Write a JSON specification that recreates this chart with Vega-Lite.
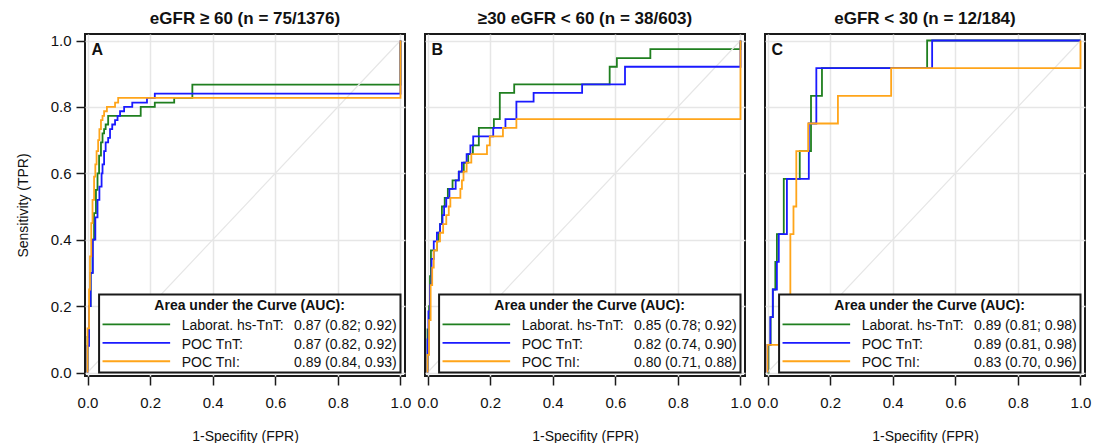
{
  "$schema": "https://vega.github.io/schema/vega-lite/v6.json",
  "background": "white",
  "padding": {"left": 16, "top": 10, "right": 5, "bottom": 0},
  "config": {
    "font": "Liberation Sans",
    "view": {"stroke": "#1a1a1a", "strokeWidth": 2},
    "axis": {
      "grid": true, "gridColor": "#e6e6e6", "gridWidth": 1.5,
      "domain": false, "tickColor": "#1a1a1a", "tickSize": 9, "tickWidth": 1.5,
      "labelFont": "Liberation Sans", "labelFontSize": 15, "labelColor": "#111",
      "titleFont": "Liberation Sans", "titleFontSize": 14, "titleFontWeight": "normal", "titleColor": "#111"
    },
    "axisX": {"labelPadding": 10, "titlePadding": 19},
    "axisY": {"labelPadding": 5, "titlePadding": 20},
    "text": {"font": "Liberation Sans", "color": "#111"}
  },
  "data": {"values": [
    {"panel":"A","kind":"leg","labels":["Laborat. hs-TnT:","POC TnT:","POC TnI:"],"aucs":["0.87 (0.82; 0.92)","0.87 (0.82, 0.92)","0.89 (0.84, 0.93)"]},
    {"panel":"B","kind":"leg","labels":["Laborat. hs-TnT:","POC TnT:","POC TnI:"],"aucs":["0.85 (0.78; 0.92)","0.82 (0.74, 0.90)","0.80 (0.71, 0.88)"]},
    {"panel":"C","kind":"leg","labels":["Laborat. hs-TnT:","POC TnT:","POC TnI:"],"aucs":["0.89 (0.81; 0.98)","0.89 (0.81, 0.98)","0.83 (0.70, 0.96)"]},

    {"panel":"A","kind":"roc","series":"Laborat. hs-TnT","k":0,"fpr":0,"tpr":0},
    {"panel":"A","kind":"roc","series":"Laborat. hs-TnT","k":1,"fpr":0,"tpr":0.107},
    {"panel":"A","kind":"roc","series":"Laborat. hs-TnT","k":2,"fpr":0.005,"tpr":0.2},
    {"panel":"A","kind":"roc","series":"Laborat. hs-TnT","k":3,"fpr":0.01,"tpr":0.3},
    {"panel":"A","kind":"roc","series":"Laborat. hs-TnT","k":4,"fpr":0.016,"tpr":0.4},
    {"panel":"A","kind":"roc","series":"Laborat. hs-TnT","k":5,"fpr":0.021,"tpr":0.48},
    {"panel":"A","kind":"roc","series":"Laborat. hs-TnT","k":6,"fpr":0.027,"tpr":0.55},
    {"panel":"A","kind":"roc","series":"Laborat. hs-TnT","k":7,"fpr":0.032,"tpr":0.6},
    {"panel":"A","kind":"roc","series":"Laborat. hs-TnT","k":8,"fpr":0.037,"tpr":0.653},
    {"panel":"A","kind":"roc","series":"Laborat. hs-TnT","k":9,"fpr":0.043,"tpr":0.693},
    {"panel":"A","kind":"roc","series":"Laborat. hs-TnT","k":10,"fpr":0.048,"tpr":0.72},
    {"panel":"A","kind":"roc","series":"Laborat. hs-TnT","k":11,"fpr":0.053,"tpr":0.733},
    {"panel":"A","kind":"roc","series":"Laborat. hs-TnT","k":12,"fpr":0.058,"tpr":0.747},
    {"panel":"A","kind":"roc","series":"Laborat. hs-TnT","k":13,"fpr":0.066,"tpr":0.773},
    {"panel":"A","kind":"roc","series":"Laborat. hs-TnT","k":14,"fpr":0.17,"tpr":0.8},
    {"panel":"A","kind":"roc","series":"Laborat. hs-TnT","k":15,"fpr":0.215,"tpr":0.813},
    {"panel":"A","kind":"roc","series":"Laborat. hs-TnT","k":16,"fpr":0.277,"tpr":0.827},
    {"panel":"A","kind":"roc","series":"Laborat. hs-TnT","k":17,"fpr":0.335,"tpr":0.867},
    {"panel":"A","kind":"roc","series":"Laborat. hs-TnT","k":18,"fpr":1,"tpr":1},

    {"panel":"A","kind":"roc","series":"POC TnT","k":0,"fpr":0,"tpr":0},
    {"panel":"A","kind":"roc","series":"POC TnT","k":1,"fpr":0,"tpr":0.08},
    {"panel":"A","kind":"roc","series":"POC TnT","k":2,"fpr":0.005,"tpr":0.2},
    {"panel":"A","kind":"roc","series":"POC TnT","k":3,"fpr":0.01,"tpr":0.3},
    {"panel":"A","kind":"roc","series":"POC TnT","k":4,"fpr":0.017,"tpr":0.4},
    {"panel":"A","kind":"roc","series":"POC TnT","k":5,"fpr":0.025,"tpr":0.467},
    {"panel":"A","kind":"roc","series":"POC TnT","k":6,"fpr":0.032,"tpr":0.52},
    {"panel":"A","kind":"roc","series":"POC TnT","k":7,"fpr":0.038,"tpr":0.56},
    {"panel":"A","kind":"roc","series":"POC TnT","k":8,"fpr":0.045,"tpr":0.6},
    {"panel":"A","kind":"roc","series":"POC TnT","k":9,"fpr":0.048,"tpr":0.627},
    {"panel":"A","kind":"roc","series":"POC TnT","k":10,"fpr":0.053,"tpr":0.667},
    {"panel":"A","kind":"roc","series":"POC TnT","k":11,"fpr":0.058,"tpr":0.693},
    {"panel":"A","kind":"roc","series":"POC TnT","k":12,"fpr":0.066,"tpr":0.707},
    {"panel":"A","kind":"roc","series":"POC TnT","k":13,"fpr":0.072,"tpr":0.733},
    {"panel":"A","kind":"roc","series":"POC TnT","k":14,"fpr":0.079,"tpr":0.747},
    {"panel":"A","kind":"roc","series":"POC TnT","k":15,"fpr":0.088,"tpr":0.76},
    {"panel":"A","kind":"roc","series":"POC TnT","k":16,"fpr":0.096,"tpr":0.773},
    {"panel":"A","kind":"roc","series":"POC TnT","k":17,"fpr":0.104,"tpr":0.787},
    {"panel":"A","kind":"roc","series":"POC TnT","k":18,"fpr":0.117,"tpr":0.8},
    {"panel":"A","kind":"roc","series":"POC TnT","k":19,"fpr":0.143,"tpr":0.813},
    {"panel":"A","kind":"roc","series":"POC TnT","k":20,"fpr":0.19,"tpr":0.827},
    {"panel":"A","kind":"roc","series":"POC TnT","k":21,"fpr":0.215,"tpr":0.84},
    {"panel":"A","kind":"roc","series":"POC TnT","k":22,"fpr":1,"tpr":1},

    {"panel":"A","kind":"roc","series":"POC TnI","k":0,"fpr":0,"tpr":0},
    {"panel":"A","kind":"roc","series":"POC TnI","k":1,"fpr":0,"tpr":0.133},
    {"panel":"A","kind":"roc","series":"POC TnI","k":2,"fpr":0.005,"tpr":0.25},
    {"panel":"A","kind":"roc","series":"POC TnI","k":3,"fpr":0.008,"tpr":0.35},
    {"panel":"A","kind":"roc","series":"POC TnI","k":4,"fpr":0.012,"tpr":0.45},
    {"panel":"A","kind":"roc","series":"POC TnI","k":5,"fpr":0.016,"tpr":0.52},
    {"panel":"A","kind":"roc","series":"POC TnI","k":6,"fpr":0.021,"tpr":0.59},
    {"panel":"A","kind":"roc","series":"POC TnI","k":7,"fpr":0.025,"tpr":0.627},
    {"panel":"A","kind":"roc","series":"POC TnI","k":8,"fpr":0.029,"tpr":0.667},
    {"panel":"A","kind":"roc","series":"POC TnI","k":9,"fpr":0.034,"tpr":0.7},
    {"panel":"A","kind":"roc","series":"POC TnI","k":10,"fpr":0.038,"tpr":0.733},
    {"panel":"A","kind":"roc","series":"POC TnI","k":11,"fpr":0.043,"tpr":0.76},
    {"panel":"A","kind":"roc","series":"POC TnI","k":12,"fpr":0.048,"tpr":0.773},
    {"panel":"A","kind":"roc","series":"POC TnI","k":13,"fpr":0.053,"tpr":0.787},
    {"panel":"A","kind":"roc","series":"POC TnI","k":14,"fpr":0.062,"tpr":0.8},
    {"panel":"A","kind":"roc","series":"POC TnI","k":15,"fpr":0.088,"tpr":0.813},
    {"panel":"A","kind":"roc","series":"POC TnI","k":16,"fpr":0.098,"tpr":0.827},
    {"panel":"A","kind":"roc","series":"POC TnI","k":17,"fpr":1,"tpr":1},

    {"panel":"B","kind":"roc","series":"Laborat. hs-TnT","k":0,"fpr":0,"tpr":0},
    {"panel":"B","kind":"roc","series":"Laborat. hs-TnT","k":1,"fpr":0,"tpr":0.13},
    {"panel":"B","kind":"roc","series":"Laborat. hs-TnT","k":2,"fpr":0.005,"tpr":0.2},
    {"panel":"B","kind":"roc","series":"Laborat. hs-TnT","k":3,"fpr":0.008,"tpr":0.29},
    {"panel":"B","kind":"roc","series":"Laborat. hs-TnT","k":4,"fpr":0.011,"tpr":0.368},
    {"panel":"B","kind":"roc","series":"Laborat. hs-TnT","k":5,"fpr":0.03,"tpr":0.395},
    {"panel":"B","kind":"roc","series":"Laborat. hs-TnT","k":6,"fpr":0.035,"tpr":0.421},
    {"panel":"B","kind":"roc","series":"Laborat. hs-TnT","k":7,"fpr":0.04,"tpr":0.447},
    {"panel":"B","kind":"roc","series":"Laborat. hs-TnT","k":8,"fpr":0.046,"tpr":0.5},
    {"panel":"B","kind":"roc","series":"Laborat. hs-TnT","k":9,"fpr":0.055,"tpr":0.526},
    {"panel":"B","kind":"roc","series":"Laborat. hs-TnT","k":10,"fpr":0.065,"tpr":0.553},
    {"panel":"B","kind":"roc","series":"Laborat. hs-TnT","k":11,"fpr":0.08,"tpr":0.579},
    {"panel":"B","kind":"roc","series":"Laborat. hs-TnT","k":12,"fpr":0.1,"tpr":0.605},
    {"panel":"B","kind":"roc","series":"Laborat. hs-TnT","k":13,"fpr":0.116,"tpr":0.632},
    {"panel":"B","kind":"roc","series":"Laborat. hs-TnT","k":14,"fpr":0.13,"tpr":0.658},
    {"panel":"B","kind":"roc","series":"Laborat. hs-TnT","k":15,"fpr":0.145,"tpr":0.684},
    {"panel":"B","kind":"roc","series":"Laborat. hs-TnT","k":16,"fpr":0.164,"tpr":0.737},
    {"panel":"B","kind":"roc","series":"Laborat. hs-TnT","k":17,"fpr":0.212,"tpr":0.763},
    {"panel":"B","kind":"roc","series":"Laborat. hs-TnT","k":18,"fpr":0.231,"tpr":0.842},
    {"panel":"B","kind":"roc","series":"Laborat. hs-TnT","k":19,"fpr":0.277,"tpr":0.868},
    {"panel":"B","kind":"roc","series":"Laborat. hs-TnT","k":20,"fpr":0.582,"tpr":0.921},
    {"panel":"B","kind":"roc","series":"Laborat. hs-TnT","k":21,"fpr":0.605,"tpr":0.947},
    {"panel":"B","kind":"roc","series":"Laborat. hs-TnT","k":22,"fpr":0.712,"tpr":0.974},
    {"panel":"B","kind":"roc","series":"Laborat. hs-TnT","k":23,"fpr":1,"tpr":1},

    {"panel":"B","kind":"roc","series":"POC TnT","k":0,"fpr":0,"tpr":0},
    {"panel":"B","kind":"roc","series":"POC TnT","k":1,"fpr":0,"tpr":0.1},
    {"panel":"B","kind":"roc","series":"POC TnT","k":2,"fpr":0.003,"tpr":0.184},
    {"panel":"B","kind":"roc","series":"POC TnT","k":3,"fpr":0.008,"tpr":0.263},
    {"panel":"B","kind":"roc","series":"POC TnT","k":4,"fpr":0.013,"tpr":0.342},
    {"panel":"B","kind":"roc","series":"POC TnT","k":5,"fpr":0.02,"tpr":0.395},
    {"panel":"B","kind":"roc","series":"POC TnT","k":6,"fpr":0.03,"tpr":0.421},
    {"panel":"B","kind":"roc","series":"POC TnT","k":7,"fpr":0.04,"tpr":0.447},
    {"panel":"B","kind":"roc","series":"POC TnT","k":8,"fpr":0.048,"tpr":0.474},
    {"panel":"B","kind":"roc","series":"POC TnT","k":9,"fpr":0.053,"tpr":0.5},
    {"panel":"B","kind":"roc","series":"POC TnT","k":10,"fpr":0.06,"tpr":0.526},
    {"panel":"B","kind":"roc","series":"POC TnT","k":11,"fpr":0.07,"tpr":0.553},
    {"panel":"B","kind":"roc","series":"POC TnT","k":12,"fpr":0.09,"tpr":0.579},
    {"panel":"B","kind":"roc","series":"POC TnT","k":13,"fpr":0.1,"tpr":0.605},
    {"panel":"B","kind":"roc","series":"POC TnT","k":14,"fpr":0.11,"tpr":0.632},
    {"panel":"B","kind":"roc","series":"POC TnT","k":15,"fpr":0.125,"tpr":0.658},
    {"panel":"B","kind":"roc","series":"POC TnT","k":16,"fpr":0.137,"tpr":0.684},
    {"panel":"B","kind":"roc","series":"POC TnT","k":17,"fpr":0.146,"tpr":0.711},
    {"panel":"B","kind":"roc","series":"POC TnT","k":18,"fpr":0.21,"tpr":0.737},
    {"panel":"B","kind":"roc","series":"POC TnT","k":19,"fpr":0.249,"tpr":0.763},
    {"panel":"B","kind":"roc","series":"POC TnT","k":20,"fpr":0.284,"tpr":0.816},
    {"panel":"B","kind":"roc","series":"POC TnT","k":21,"fpr":0.339,"tpr":0.842},
    {"panel":"B","kind":"roc","series":"POC TnT","k":22,"fpr":0.494,"tpr":0.868},
    {"panel":"B","kind":"roc","series":"POC TnT","k":23,"fpr":0.631,"tpr":0.921},
    {"panel":"B","kind":"roc","series":"POC TnT","k":24,"fpr":1,"tpr":1},

    {"panel":"B","kind":"roc","series":"POC TnI","k":0,"fpr":0,"tpr":0},
    {"panel":"B","kind":"roc","series":"POC TnI","k":1,"fpr":0,"tpr":0.053},
    {"panel":"B","kind":"roc","series":"POC TnI","k":2,"fpr":0.005,"tpr":0.158},
    {"panel":"B","kind":"roc","series":"POC TnI","k":3,"fpr":0.01,"tpr":0.263},
    {"panel":"B","kind":"roc","series":"POC TnI","k":4,"fpr":0.015,"tpr":0.316},
    {"panel":"B","kind":"roc","series":"POC TnI","k":5,"fpr":0.02,"tpr":0.368},
    {"panel":"B","kind":"roc","series":"POC TnI","k":6,"fpr":0.03,"tpr":0.395},
    {"panel":"B","kind":"roc","series":"POC TnI","k":7,"fpr":0.04,"tpr":0.421},
    {"panel":"B","kind":"roc","series":"POC TnI","k":8,"fpr":0.05,"tpr":0.447},
    {"panel":"B","kind":"roc","series":"POC TnI","k":9,"fpr":0.06,"tpr":0.474},
    {"panel":"B","kind":"roc","series":"POC TnI","k":10,"fpr":0.068,"tpr":0.5},
    {"panel":"B","kind":"roc","series":"POC TnI","k":11,"fpr":0.073,"tpr":0.526},
    {"panel":"B","kind":"roc","series":"POC TnI","k":12,"fpr":0.105,"tpr":0.553},
    {"panel":"B","kind":"roc","series":"POC TnI","k":13,"fpr":0.11,"tpr":0.579},
    {"panel":"B","kind":"roc","series":"POC TnI","k":14,"fpr":0.115,"tpr":0.605},
    {"panel":"B","kind":"roc","series":"POC TnI","k":15,"fpr":0.125,"tpr":0.632},
    {"panel":"B","kind":"roc","series":"POC TnI","k":16,"fpr":0.14,"tpr":0.658},
    {"panel":"B","kind":"roc","series":"POC TnI","k":17,"fpr":0.19,"tpr":0.684},
    {"panel":"B","kind":"roc","series":"POC TnI","k":18,"fpr":0.199,"tpr":0.711},
    {"panel":"B","kind":"roc","series":"POC TnI","k":19,"fpr":0.241,"tpr":0.737},
    {"panel":"B","kind":"roc","series":"POC TnI","k":20,"fpr":0.284,"tpr":0.763},
    {"panel":"B","kind":"roc","series":"POC TnI","k":21,"fpr":1,"tpr":1},

    {"panel":"C","kind":"roc","series":"Laborat. hs-TnT","k":0,"fpr":0,"tpr":0},
    {"panel":"C","kind":"roc","series":"Laborat. hs-TnT","k":1,"fpr":0.003,"tpr":0.083},
    {"panel":"C","kind":"roc","series":"Laborat. hs-TnT","k":2,"fpr":0.01,"tpr":0.167},
    {"panel":"C","kind":"roc","series":"Laborat. hs-TnT","k":3,"fpr":0.017,"tpr":0.25},
    {"panel":"C","kind":"roc","series":"Laborat. hs-TnT","k":4,"fpr":0.025,"tpr":0.333},
    {"panel":"C","kind":"roc","series":"Laborat. hs-TnT","k":5,"fpr":0.03,"tpr":0.417},
    {"panel":"C","kind":"roc","series":"Laborat. hs-TnT","k":6,"fpr":0.052,"tpr":0.583},
    {"panel":"C","kind":"roc","series":"Laborat. hs-TnT","k":7,"fpr":0.103,"tpr":0.667},
    {"panel":"C","kind":"roc","series":"Laborat. hs-TnT","k":8,"fpr":0.139,"tpr":0.833},
    {"panel":"C","kind":"roc","series":"Laborat. hs-TnT","k":9,"fpr":0.174,"tpr":0.917},
    {"panel":"C","kind":"roc","series":"Laborat. hs-TnT","k":10,"fpr":0.51,"tpr":1},
    {"panel":"C","kind":"roc","series":"Laborat. hs-TnT","k":11,"fpr":1,"tpr":1},

    {"panel":"C","kind":"roc","series":"POC TnT","k":0,"fpr":0,"tpr":0},
    {"panel":"C","kind":"roc","series":"POC TnT","k":1,"fpr":0,"tpr":0.083},
    {"panel":"C","kind":"roc","series":"POC TnT","k":2,"fpr":0.009,"tpr":0.167},
    {"panel":"C","kind":"roc","series":"POC TnT","k":3,"fpr":0.017,"tpr":0.25},
    {"panel":"C","kind":"roc","series":"POC TnT","k":4,"fpr":0.03,"tpr":0.333},
    {"panel":"C","kind":"roc","series":"POC TnT","k":5,"fpr":0.036,"tpr":0.417},
    {"panel":"C","kind":"roc","series":"POC TnT","k":6,"fpr":0.062,"tpr":0.583},
    {"panel":"C","kind":"roc","series":"POC TnT","k":7,"fpr":0.132,"tpr":0.75},
    {"panel":"C","kind":"roc","series":"POC TnT","k":8,"fpr":0.156,"tpr":0.917},
    {"panel":"C","kind":"roc","series":"POC TnT","k":9,"fpr":0.526,"tpr":1},
    {"panel":"C","kind":"roc","series":"POC TnT","k":10,"fpr":1,"tpr":1},

    {"panel":"C","kind":"roc","series":"POC TnI","k":0,"fpr":0,"tpr":0},
    {"panel":"C","kind":"roc","series":"POC TnI","k":1,"fpr":0,"tpr":0.083},
    {"panel":"C","kind":"roc","series":"POC TnI","k":2,"fpr":0.073,"tpr":0.417},
    {"panel":"C","kind":"roc","series":"POC TnI","k":3,"fpr":0.083,"tpr":0.5},
    {"panel":"C","kind":"roc","series":"POC TnI","k":4,"fpr":0.092,"tpr":0.667},
    {"panel":"C","kind":"roc","series":"POC TnI","k":5,"fpr":0.13,"tpr":0.75},
    {"panel":"C","kind":"roc","series":"POC TnI","k":6,"fpr":0.225,"tpr":0.833},
    {"panel":"C","kind":"roc","series":"POC TnI","k":7,"fpr":0.395,"tpr":0.917},
    {"panel":"C","kind":"roc","series":"POC TnI","k":8,"fpr":1,"tpr":1}
  ]},
  "facet": {
    "column": {
      "field": "panel", "type": "nominal", "title": null, "sort": ["A", "B", "C"],
      "header": {
        "labelExpr": "datum.value == 'A' ? 'eGFR ≥ 60 (n = 75/1376)' : datum.value == 'B' ? '≥30 eGFR < 60 (n = 38/603)' : 'eGFR < 30 (n = 12/184)'",
        "labelFont": "Liberation Sans", "labelFontSize": 17, "labelFontWeight": "bold", "labelColor": "#111", "labelPadding": 6
      }
    }
  },
  "spacing": 20,
  "bounds": "flush",
  "spec": {
    "width": 320,
    "height": 342,
    "layer": [
      {
        "transform": [{"filter": "datum.kind === 'roc' && datum.series === 'Laborat. hs-TnT'"}],
        "mark": {"type": "line", "interpolate": "step-after", "strokeWidth": 1.8},
        "encoding": {
          "x": {"field": "fpr", "type": "quantitative", "scale": {"domain": [-0.008, 1.0144], "nice": false, "zero": false},
                "axis": {"values": [0, 0.2, 0.4, 0.6, 0.8, 1], "format": ".1f", "title": "1-Specifity (FPR)"}},
          "y": {"field": "tpr", "type": "quantitative", "scale": {"domain": [-0.0105, 1.0196], "nice": false, "zero": false},
                "axis": {"values": [0, 0.2, 0.4, 0.6, 0.8, 1], "format": ".1f", "title": "Sensitivity (TPR)"}},
          "order": {"field": "k", "type": "quantitative"},
          "color": {"field": "series", "type": "nominal", "legend": null,
                    "scale": {"domain": ["Laborat. hs-TnT", "POC TnT", "POC TnI"], "range": ["#1f7f1f", "#1a1aff", "#ffa51a"]}}
        }
      },
      {
        "transform": [{"filter": "datum.kind === 'leg'"}],
        "mark": {"type": "rule", "color": "#e6e6e6", "strokeWidth": 1.2},
        "encoding": {
          "x": {"datum": 0, "type": "quantitative"},
          "y": {"datum": 0, "type": "quantitative"},
          "x2": {"datum": 1},
          "y2": {"datum": 1}
        }
      },
      {
        "transform": [{"filter": "datum.kind === 'roc' && datum.series === 'POC TnT'"}],
        "mark": {"type": "line", "interpolate": "step-after", "strokeWidth": 1.8},
        "encoding": {
          "x": {"field": "fpr", "type": "quantitative"},
          "y": {"field": "tpr", "type": "quantitative"},
          "order": {"field": "k", "type": "quantitative"},
          "color": {"field": "series", "type": "nominal", "legend": null}
        }
      },
      {
        "transform": [{"filter": "datum.kind === 'roc' && datum.series === 'POC TnI'"}],
        "mark": {"type": "line", "interpolate": "step-after", "strokeWidth": 1.8},
        "encoding": {
          "x": {"field": "fpr", "type": "quantitative"},
          "y": {"field": "tpr", "type": "quantitative"},
          "order": {"field": "k", "type": "quantitative"},
          "color": {"field": "series", "type": "nominal", "legend": null}
        }
      },
      {
        "transform": [{"filter": "datum.kind === 'leg'"}],
        "mark": {"type": "rect", "fill": "white", "stroke": "#1a1a1a", "strokeWidth": 2},
        "encoding": {
          "x": {"datum": 0.037, "type": "quantitative"},
          "x2": {"datum": 1.0},
          "y": {"datum": 0.0, "type": "quantitative"},
          "y2": {"datum": 0.235}
        }
      },
      {
        "transform": [{"filter": "datum.kind === 'leg'"}],
        "mark": {"type": "text", "text": "Area under the Curve (AUC):", "fontSize": 14, "fontWeight": "bold", "align": "center", "baseline": "alphabetic"},
        "encoding": {
          "x": {"datum": 0.518, "type": "quantitative"},
          "y": {"datum": 0.187, "type": "quantitative"}
        }
      },
      {
        "transform": [{"filter": "datum.kind === 'leg'"}],
        "mark": {"type": "rule", "color": "#1f7f1f", "strokeWidth": 1.8},
        "encoding": {
          "x": {"datum": 0.048, "type": "quantitative"},
          "x2": {"datum": 0.264},
          "y": {"datum": 0.145, "type": "quantitative"}
        }
      },
      {
        "transform": [{"filter": "datum.kind === 'leg'"}],
        "mark": {"type": "rule", "color": "#1a1aff", "strokeWidth": 1.8},
        "encoding": {
          "x": {"datum": 0.048, "type": "quantitative"},
          "x2": {"datum": 0.264},
          "y": {"datum": 0.089, "type": "quantitative"}
        }
      },
      {
        "transform": [{"filter": "datum.kind === 'leg'"}],
        "mark": {"type": "rule", "color": "#ffa51a", "strokeWidth": 1.8},
        "encoding": {
          "x": {"datum": 0.048, "type": "quantitative"},
          "x2": {"datum": 0.264},
          "y": {"datum": 0.034, "type": "quantitative"}
        }
      },
      {
        "transform": [{"filter": "datum.kind === 'leg'"}],
        "mark": {"type": "text", "fontSize": 14, "align": "left", "baseline": "alphabetic", "lineHeight": 18.5},
        "encoding": {
          "x": {"datum": 0.301, "type": "quantitative"},
          "y": {"datum": 0.127, "type": "quantitative"},
          "text": {"field": "labels"}
        }
      },
      {
        "transform": [{"filter": "datum.kind === 'leg'"}],
        "mark": {"type": "text", "fontSize": 14, "align": "right", "baseline": "alphabetic", "lineHeight": 18.5},
        "encoding": {
          "x": {"datum": 0.988, "type": "quantitative"},
          "y": {"datum": 0.127, "type": "quantitative"},
          "text": {"field": "aucs"}
        }
      },
      {
        "transform": [{"filter": "datum.kind === 'leg'"}],
        "mark": {"type": "text", "fontSize": 16, "fontWeight": "bold", "align": "left", "baseline": "alphabetic"},
        "encoding": {
          "x": {"datum": 0.013, "type": "quantitative"},
          "y": {"datum": 0.955, "type": "quantitative"},
          "text": {"field": "panel"}
        }
      }
    ]
  }
}
